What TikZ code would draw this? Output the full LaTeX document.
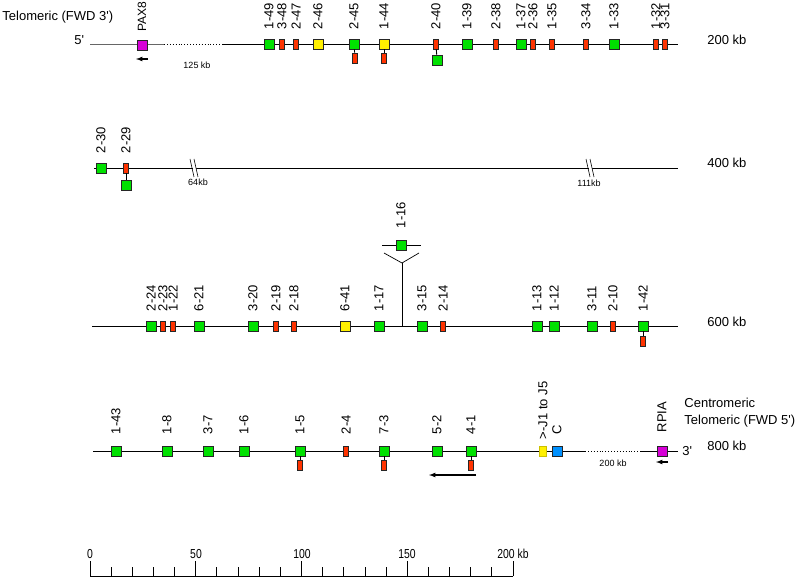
\documentclass[tikz,border=0pt]{standalone}
\usepackage{fontspec}
\setmainfont{Liberation Sans}
\usepackage{xcolor}
\usepackage{tikz}
\usetikzlibrary{positioning}

\definecolor{vgreen}{RGB}{0,225,0}
\definecolor{pred}{RGB}{255,51,0}
\definecolor{oyellow}{RGB}{255,240,0}
\definecolor{mpink}{RGB}{215,0,215}
\definecolor{cblue}{RGB}{0,145,255}

\tikzset{
  gene/.style={draw=black!85, line width=0.8pt, inner sep=0pt, minimum width=10pt, minimum height=10pt},
  vbox/.style={gene, fill=vgreen},
  pbox/.style={gene, fill=pred, minimum width=4.5pt},
  obox/.style={gene, fill=oyellow},
  mbox/.style={gene, fill=mpink},
  cbox/.style={gene, fill=cblue},
  jbox/.style={gene, draw=oyellow!80!black, fill=oyellow, minimum width=7pt},
  lbl/.style={rotate=90, anchor=west, inner sep=0pt, font=\fontsize{13}{13}\selectfont},
  big/.style={anchor=west, inner sep=0pt, font=\fontsize{13}{13}\selectfont},
  small/.style={inner sep=0pt, font=\fontsize{9}{9}\selectfont},
  sclbl/.style={inner sep=0pt, xscale=0.8, font=\fontsize{13}{13}\selectfont}
}

\begin{document}
\begin{tikzpicture}[x=1pt,y=-1pt,line width=0.9pt]
\useasboundingbox (0,0) rectangle (802,577);

% row 1
\coordinate (a1) at (90,44);
\coordinate (b1) at (164,44);
\coordinate (c1) at (223,44);
\coordinate (d1) at (678,44);
\draw[black!60] (a1) -- (b1);
\draw[dotted] (b1) -- (c1);
\draw (c1) -- (d1);
\node[big] (tel3) at (2,17) {Telomeric (FWD 3\textquotesingle)};
\node[big] (end5) at (74,40) {5\textquotesingle};
\node[big] (kb200) at (707,40) {200 kb};
\node[small] (gap125) at (197,65) {125 kb};
\node[mbox] (pax8) at (142,45) {};
\node[lbl, font=\fontsize{12}{12}\selectfont] (tpax8) at ([yshift=8pt]pax8.north) {PAX8};
\coordinate (pax8r) at (148,59);
\coordinate (pax8l) at (136,59);
\draw[-latex, line width=1.2pt] (pax8r) -- (pax8l);
\node[vbox] (v1-49) at (269,44) {};
\node[pbox] (v3-48) at (282,44) {};
\node[pbox] (v2-47) at (296,44) {};
\node[obox] (v2-46) at (318,44) {};
\node[vbox] (v2-45) at (354,44) {};
\node[pbox] (h2-45) at (355,58) {};
\node[obox] (v1-44) at (384,44) {};
\node[pbox] (h1-44) at (384,58) {};
\node[pbox] (v2-40) at (436,44) {};
\node[vbox] (h2-40) at (437,60) {};
\node[vbox] (v1-39) at (467,44) {};
\node[pbox] (v2-38) at (496,44) {};
\node[vbox] (v1-37) at (521,44) {};
\node[pbox] (v2-36) at (533,44) {};
\node[pbox] (v1-35) at (552,44) {};
\node[pbox] (v3-34) at (586,44) {};
\node[vbox] (v1-33) at (614,44) {};
\node[pbox] (v1-32) at (656,44) {};
\node[pbox] (v3-31) at (665,44) {};
\draw (v2-45) -- (h2-45);
\draw (v1-44) -- (h1-44);
\draw (v2-40) -- (h2-40);
\node[lbl] (t1-49) at ([yshift=9pt]v1-49.north) {1-49};
\node[lbl] (t3-48) at ([yshift=9pt]v3-48.north) {3-48};
\node[lbl] (t2-47) at ([yshift=9pt]v2-47.north) {2-47};
\node[lbl] (t2-46) at ([yshift=9pt]v2-46.north) {2-46};
\node[lbl] (t2-45) at ([yshift=9pt]v2-45.north) {2-45};
\node[lbl] (t1-44) at ([yshift=9pt]v1-44.north) {1-44};
\node[lbl] (t2-40) at ([yshift=9pt]v2-40.north) {2-40};
\node[lbl] (t1-39) at ([yshift=9pt]v1-39.north) {1-39};
\node[lbl] (t2-38) at ([yshift=9pt]v2-38.north) {2-38};
\node[lbl] (t1-37) at ([yshift=9pt]v1-37.north) {1-37};
\node[lbl] (t2-36) at ([yshift=9pt]v2-36.north) {2-36};
\node[lbl] (t1-35) at ([yshift=9pt]v1-35.north) {1-35};
\node[lbl] (t3-34) at ([yshift=9pt]v3-34.north) {3-34};
\node[lbl] (t1-33) at ([yshift=9pt]v1-33.north) {1-33};
\node[lbl] (t1-32) at ([yshift=9pt]v1-32.north) {1-32};
\node[lbl] (t3-31) at ([yshift=9pt]v3-31.north) {3-31};

% row 2
\coordinate (a2) at (94,168);
\coordinate (d2) at (678,168);
\draw (a2) -- (d2);
\fill[white] (191,159) -- (194,159) -- (198,177) -- (195,177) -- cycle;
\draw[line width=0.6pt] (190,159) -- (194,177);
\draw[line width=0.6pt] (194,159) -- (198,177);
\fill[white] (587,159) -- (590,159) -- (594,177) -- (591,177) -- cycle;
\draw[line width=0.6pt] (586,159) -- (590,177);
\draw[line width=0.6pt] (590,159) -- (594,177);
\node[small] (gap64) at (198,182) {64kb};
\node[small] (gap111) at (589,183) {111kb};
\node[big] (kb400) at (707,163) {400 kb};
\node[vbox] (v2-30) at (101,168) {};
\node[pbox] (v2-29) at (126,168) {};
\node[vbox] (h2-29) at (126,185) {};
\draw (v2-29) -- (h2-29);
\node[lbl] (t2-30) at ([yshift=9pt]v2-30.north) {2-30};
\node[lbl] (t2-29) at ([yshift=9pt]v2-29.north) {2-29};

% row 3
\coordinate (a3) at (92,326);
\coordinate (d3) at (678,326);
\coordinate (fork) at (402,326);
\coordinate (vtip) at (402,263);
\coordinate (vl) at (384,253);
\coordinate (vr) at (419,253);
\coordinate (il) at (382,245);
\coordinate (ir) at (421,245);
\draw (a3) -- (d3);
\draw[line width=0.7pt] (fork) -- (vtip);
\draw[line width=0.7pt] (vl) -- (vtip) -- (vr);
\draw[line width=0.7pt] (il) -- (ir);
\node[big] (kb600) at (707,322) {600 kb};
\node[vbox] (v1-16) at (401,245) {};
\node[vbox] (v2-24) at (151,326) {};
\node[pbox] (v2-23) at (163,326) {};
\node[pbox] (v1-22) at (173,326) {};
\node[vbox] (v6-21) at (199,326) {};
\node[vbox] (v3-20) at (253,326) {};
\node[pbox] (v2-19) at (276,326) {};
\node[pbox] (v2-18) at (294,326) {};
\node[obox] (v6-41) at (345,326) {};
\node[vbox] (v1-17) at (379,326) {};
\node[vbox] (v3-15) at (422,326) {};
\node[pbox] (v2-14) at (443,326) {};
\node[vbox] (v1-13) at (537,326) {};
\node[vbox] (v1-12) at (554,326) {};
\node[vbox] (v3-11) at (592,326) {};
\node[pbox] (v2-10) at (613,326) {};
\node[vbox] (v1-42) at (643,326) {};
\node[pbox] (h1-42) at (643,341) {};
\draw (v1-42) -- (h1-42);
\node[lbl] (t1-16) at ([yshift=11pt]v1-16.north) {1-16};
\node[lbl] (t2-24) at ([yshift=9pt]v2-24.north) {2-24};
\node[lbl] (t2-23) at ([yshift=9pt]v2-23.north) {2-23};
\node[lbl] (t1-22) at ([yshift=9pt]v1-22.north) {1-22};
\node[lbl] (t6-21) at ([yshift=9pt]v6-21.north) {6-21};
\node[lbl] (t3-20) at ([yshift=9pt]v3-20.north) {3-20};
\node[lbl] (t2-19) at ([yshift=9pt]v2-19.north) {2-19};
\node[lbl] (t2-18) at ([yshift=9pt]v2-18.north) {2-18};
\node[lbl] (t6-41) at ([yshift=9pt]v6-41.north) {6-41};
\node[lbl] (t1-17) at ([yshift=9pt]v1-17.north) {1-17};
\node[lbl] (t3-15) at ([yshift=9pt]v3-15.north) {3-15};
\node[lbl] (t2-14) at ([yshift=9pt]v2-14.north) {2-14};
\node[lbl] (t1-13) at ([yshift=9pt]v1-13.north) {1-13};
\node[lbl] (t1-12) at ([yshift=9pt]v1-12.north) {1-12};
\node[lbl] (t3-11) at ([yshift=9pt]v3-11.north) {3-11};
\node[lbl] (t2-10) at ([yshift=9pt]v2-10.north) {2-10};
\node[lbl] (t1-42) at ([yshift=9pt]v1-42.north) {1-42};

% row 4
\coordinate (a4) at (93,451);
\coordinate (b4) at (585,451);
\coordinate (c4) at (640,451);
\coordinate (d4) at (678,451);
\draw (a4) -- (b4);
\draw[dotted] (b4) -- (c4);
\draw (c4) -- (d4);
\node[big] (cen) at (684,403) {Centromeric};
\node[big] (tel5) at (684,421) {Telomeric (FWD 5\textquotesingle)};
\node[big] (end3) at (682,451) {3\textquotesingle};
\node[big] (kb800) at (707,446) {800 kb};
\node[small] (gap200) at (613,463) {200 kb};
\node[vbox] (v1-43) at (116,451) {};
\node[vbox] (v1-8) at (167,451) {};
\node[vbox] (v3-7) at (208,451) {};
\node[vbox] (v1-6) at (244,451) {};
\node[vbox] (v1-5) at (300,451) {};
\node[pbox] (h1-5) at (300,465) {};
\node[pbox] (v2-4) at (346,451) {};
\node[vbox] (v7-3) at (384,451) {};
\node[pbox] (h7-3) at (384,465) {};
\node[vbox] (v5-2) at (437,451) {};
\node[vbox] (v4-1) at (471,451) {};
\node[pbox] (h4-1) at (471,465) {};
\node[jbox] (jseg) at (543,451) {};
\node[cbox] (cseg) at (557,451) {};
\node[mbox] (rpia) at (662,451) {};
\draw (v1-5) -- (h1-5);
\draw (v7-3) -- (h7-3);
\draw (v4-1) -- (h4-1);
\node[lbl] (t1-43) at ([yshift=11pt]v1-43.north) {1-43};
\node[lbl] (t1-8) at ([yshift=11pt]v1-8.north) {1-8};
\node[lbl] (t3-7) at ([yshift=11pt]v3-7.north) {3-7};
\node[lbl] (t1-6) at ([yshift=11pt]v1-6.north) {1-6};
\node[lbl] (t1-5) at ([yshift=11pt]v1-5.north) {1-5};
\node[lbl] (t2-4) at ([yshift=11pt]v2-4.north) {2-4};
\node[lbl] (t7-3) at ([yshift=11pt]v7-3.north) {7-3};
\node[lbl] (t5-2) at ([yshift=11pt]v5-2.north) {5-2};
\node[lbl] (t4-1) at ([yshift=11pt]v4-1.north) {4-1};
\node[lbl] (tjseg) at ([yshift=6pt]jseg.north) {>-J1 to J5};
\node[lbl] (tcseg) at ([yshift=11pt]cseg.north) {C};
\node[lbl] (trpia) at ([yshift=13pt]rpia.north) {RPIA};
\coordinate (arr4r) at (476,475);
\coordinate (arr4l) at (429,475);
\draw[-latex, line width=1.2pt] (arr4r) -- (arr4l);
\coordinate (rpiar) at (668,462);
\coordinate (rpial) at (656,462);
\draw[-latex, line width=1.2pt] (rpiar) -- (rpial);

% scale bar
\coordinate (s0) at (90,576);
\coordinate (s200) at (513,576);
\draw (s0) -- (s200);
\foreach \k in {0,...,20}
  \draw ({90+21.15*\k},576) -- ++(0,-9);
\foreach \k in {0,5,...,20}
  \draw ({90+21.15*\k},576) -- ++(0,-15);
\node[sclbl] (t0) at (90,554) {0};
\node[sclbl] (t50) at (196,554) {50};
\node[sclbl] (t100) at (302,554) {100};
\node[sclbl] (t150) at (407,554) {150};
\node[sclbl] (t200) at (513,554) {200 kb};
\end{tikzpicture}
\end{document}
